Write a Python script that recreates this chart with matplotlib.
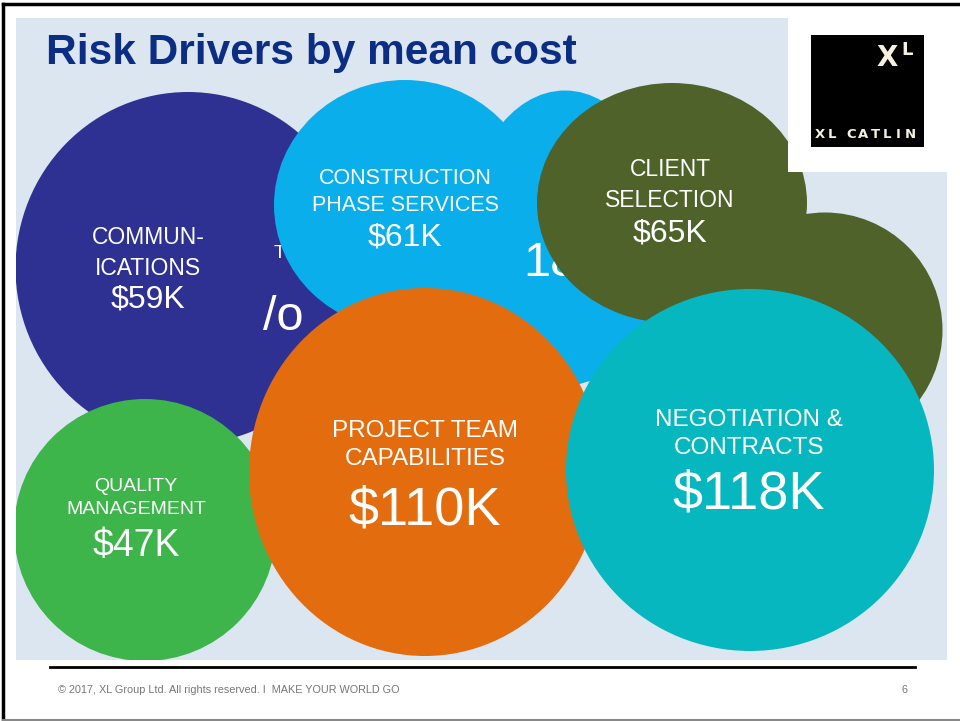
import matplotlib.pyplot as plt
from matplotlib.patches import Ellipse, Rectangle, PathPatch
from matplotlib.path import Path

# Risk drivers and their mean cost (in $K)
labels = ["COMMUN-\nICATIONS", "CONSTRUCTION\nPHASE SERVICES", "CLIENT\nSELECTION",
          "QUALITY\nMANAGEMENT", "PROJECT TEAM\nCAPABILITIES", "NEGOTIATION &\nCONTRACTS"]
mean_cost = [59, 61, 65, 47, 110, 118]
colors = ["#2E3192", "#0AAEEB", "#4E6229", "#3DB54A", "#E36C0E", "#07B7C0"]

# bubble layout in pixel coords (cx, cy, w, h)
layout = [(188, 268, 345, 352), (405, 205, 262, 250), (672, 203, 270, 240),
          (145, 530, 262, 262), (425, 472, 352, 368), (750, 470, 368, 362)]
# label y positions: (name, value) and font sizes: (name, value)
text_y = [(253, 300), (192, 238), (185, 233), (498, 546), (445, 510), (434, 494)]
text_x = [148, 405, 670, 136, 425, 749]
fsize = [(16.5, 23), (15.5, 23), (16.5, 23), (14, 27), (17.5, 39), (17.5, 39)]
z = [2, 4, 6, 7, 8, 9]

fig = plt.figure(figsize=(9.6, 7.21), dpi=100)
ax = fig.add_axes([0, 0, 1, 1])
ax.set_xlim(0, 960)
ax.set_ylim(721, 0)
ax.axis("off")

# slide border
ax.plot([3, 960], [4, 4], color="black", lw=2.5, zorder=20)
ax.plot([3, 3], [4, 721], color="black", lw=2.5, zorder=20)
ax.plot([3, 960], [719.5, 719.5], color="#888888", lw=1.5, zorder=20)

# light blue panel with the logo cut-out
panel_pts = [(16, 18), (788, 18), (788, 172), (947, 172), (947, 660), (16, 660), (16, 18)]
panel = PathPatch(Path(panel_pts, [Path.MOVETO] + [Path.LINETO] * 5 + [Path.CLOSEPOLY]),
                  facecolor="#DCE6F1", edgecolor="none", zorder=0)
ax.add_patch(panel)

ax.text(46, 53, "Risk Drivers by mean cost", fontsize=30.5, fontweight="bold",
        color="#0B2D84", family="Liberation Sans", va="center", ha="left", zorder=12)

# hidden bubbles partly visible behind the front ones
back = Ellipse((825, 330), 235, 235, facecolor="#4E6229", edgecolor="none", zorder=5)
ax.add_patch(back)
back.set_clip_path(panel)
back2 = Ellipse((565, 238), 200, 295, facecolor="#0AAEEB", edgecolor="none", zorder=3)
ax.add_patch(back2)
back2.set_clip_path(panel)
ax.text(280, 253, "T", fontsize=14, color="white", ha="center", va="center",
        family="Liberation Sans", zorder=3)
ax.text(283, 317, "/o", fontsize=35, color="white", ha="center", va="center",
        family="Liberation Sans", zorder=3)
ax.text(550, 264, "18", fontsize=35, color="white", ha="center", va="center",
        family="Liberation Sans", zorder=5)

for lab, val, col, (cx, cy, w, h), (ty, vy), tx, (fs1, fs2), zz in zip(
        labels, mean_cost, colors, layout, text_y, text_x, fsize, z):
    e = Ellipse((cx, cy), w, h, facecolor=col, edgecolor="none", zorder=zz)
    ax.add_patch(e)
    e.set_clip_path(panel)
    ax.text(tx, ty, lab, fontsize=fs1, color="white", ha="center", va="center",
            linespacing=1.4, family="Liberation Sans", zorder=zz + 0.5)
    ax.text(tx, vy, f"${val}K", fontsize=fs2, color="white", ha="center", va="center",
            family="Liberation Sans", zorder=zz + 0.5)

# logo
ax.add_patch(Rectangle((811, 35), 113, 112, facecolor="black", edgecolor="none", zorder=12))
ax.text(887, 58, "X", fontsize=20, fontweight="bold", color="#F4F1E0", ha="center",
        va="center", family="DejaVu Sans", zorder=13)
ax.text(907, 50, "L", fontsize=13, fontweight="bold", color="#F4F1E0", ha="center",
        va="center", family="DejaVu Sans", zorder=13)
logo_x = [820, 832, 851, 863, 875, 887, 898, 910]
for ch, lx in zip("XLCATLIN", logo_x):
    ax.text(lx, 134, ch, fontsize=9.5, fontweight="bold", color="#F4F1E0", ha="center",
            va="center", family="DejaVu Sans", zorder=13)

# footer
ax.plot([50, 915], [667, 667], color="black", lw=2, zorder=12)
ax.text(58, 690, "\u00a9 2017, XL Group Ltd. All rights reserved. I  MAKE YOUR WORLD GO",
        fontsize=7.85, color="#777777", ha="left", va="center", family="Liberation Sans")
ax.text(905, 690, "6", fontsize=7.85, color="#777777", ha="center", va="center",
        family="Liberation Sans")

fig.savefig("out.png", dpi=100)
